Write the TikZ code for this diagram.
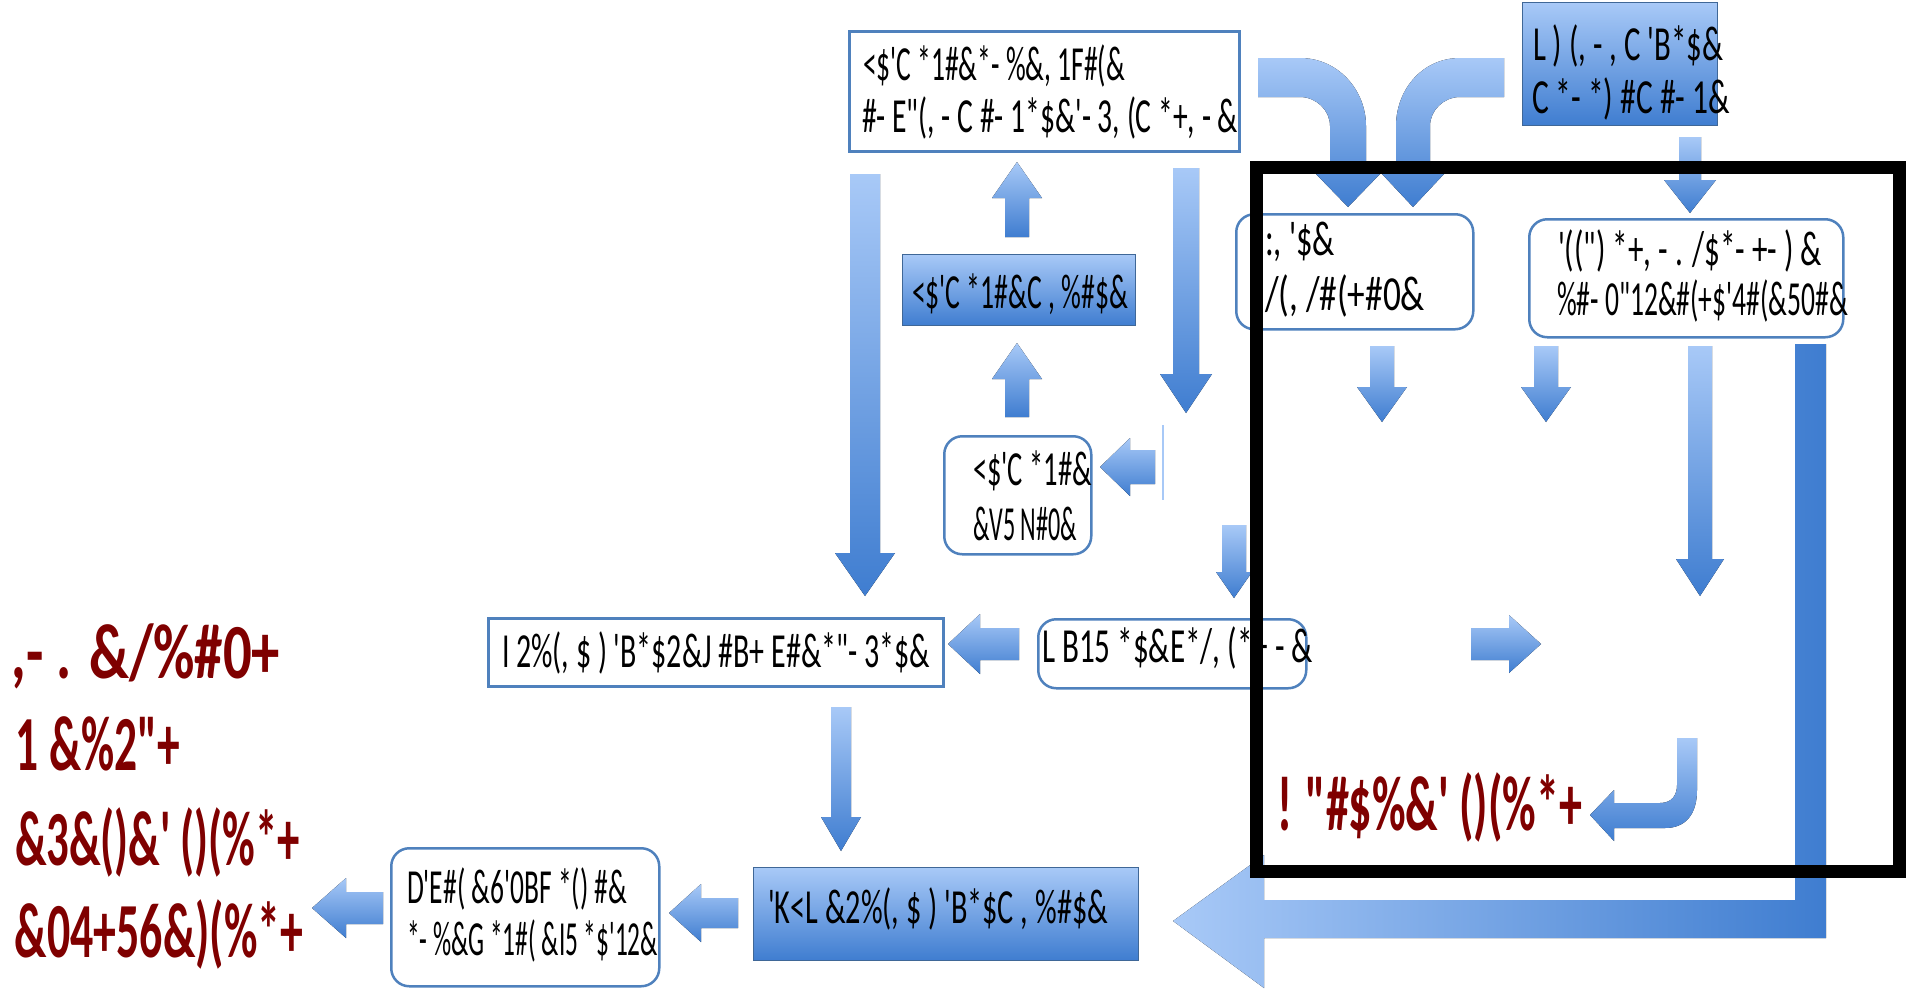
\documentclass[tikz,border=0pt]{standalone}
\usepackage{fontspec}
\usepackage{graphicx}
\newfontfamily\gf[Ligatures=TeXOff]{Carlito}
\definecolor{bord}{HTML}{4F81BD}
\definecolor{lb}{HTML}{A8C9F7}
\definecolor{db}{HTML}{3F7DD0}
\definecolor{redt}{HTML}{7F0000}
\tikzset{
 wbox/.style={draw=bord, line width=2.5pt, fill=white, inner sep=0pt, anchor=north west},
 rbox/.style={wbox, rounded corners=18pt},
 bbox/.style={draw=bord!80!black, line width=1pt, top color=lb, bottom color=db, inner sep=0pt, anchor=north west},
 varr/.style={top color=lb, bottom color=db, draw=none},
 harr/.style={left color=lb, right color=db, draw=none},
 txt/.style={inner sep=0pt, outer sep=0pt, anchor=base west, font=\gf\fontsize{49}{56}\selectfont},
 rtxt/.style={txt, font=\gf\bfseries\fontsize{78}{84}\selectfont, text=redt},
 blackframe/.style={draw=black, line width=13pt},
}
\newcommand{\arrD}[7]{\fill[#7] ({#1-#4},#2) -- ({#1+#4},#2) -- ({#1+#4},{#3-#6}) -- ({#1+#5},{#3-#6}) -- (#1,#3) -- ({#1-#5},{#3-#6}) -- ({#1-#4},{#3-#6}) -- cycle;}
\newcommand{\arrU}[7]{\fill[#7] ({#1-#4},#3) -- ({#1+#4},#3) -- ({#1+#4},{#2+#6}) -- ({#1+#5},{#2+#6}) -- (#1,#2) -- ({#1-#5},{#2+#6}) -- ({#1-#4},{#2+#6}) -- cycle;}
\newcommand{\arrL}[7]{\fill[#7] (#3,{#1-#4}) -- (#3,{#1+#4}) -- ({#2+#6},{#1+#4}) -- ({#2+#6},{#1+#5}) -- (#2,#1) -- ({#2+#6},{#1-#5}) -- ({#2+#6},{#1-#4}) -- cycle;}
\newcommand{\arrR}[7]{\fill[#7] (#2,{#1-#4}) -- (#2,{#1+#4}) -- ({#3-#6},{#1+#4}) -- ({#3-#6},{#1+#5}) -- (#3,#1) -- ({#3-#6},{#1-#5}) -- ({#3-#6},{#1-#4}) -- cycle;}
\newcommand{\tl}[6][txt]{\node[#1] (#2) at (#3,#4) {\resizebox{#5pt}{\height}{#6}};}
\begin{document}
\begin{tikzpicture}[x=1pt,y=-1pt]
\useasboundingbox (0,0) rectangle (1906,988);
% boxes
\node[wbox, minimum width=390pt, minimum height=120pt] (b1) at (848,30) {};
\node[bbox, minimum width=195pt, minimum height=123pt] (b2) at (1522,2) {};
\node[rbox, minimum width=237pt, minimum height=115pt] (b4) at (1235,213) {};
\node[rbox, minimum width=314pt, minimum height=118pt] (b5) at (1528,218) {};
\node[bbox, minimum width=233pt, minimum height=71pt] (b6) at (902,254) {};
\node[rbox, minimum width=147pt, minimum height=118pt] (b7) at (943,435) {};
\node[wbox, minimum width=455pt, minimum height=68pt] (b9) at (487,617) {};
\node[rbox, minimum width=268pt, minimum height=69pt] (b8) at (1037,618) {};
\node[rbox, minimum width=268pt, minimum height=138pt] (b10) at (390,847) {};
\node[bbox, minimum width=385pt, minimum height=93pt] (b11) at (753,867) {};
% texts
\tl{t1a}{863}{80}{262}{<\$'C *1\#\&*- \%\&, 1F\#(\&}
\tl{t1b}{862}{132}{376}{\#- E"(, - C \#- 1*\$\&'- 3, (C *+, - \&}
\tl{t2a}{1533}{60}{190}{L ) (, - , C 'B*\$\&}
\tl{t2b}{1532}{113}{198}{C *- *) \#C \#- 1\&}
\tl{t4a}{1265}{255}{70}{:, '\$\&}
\tl{t4b}{1265}{310}{160}{/(, /\#(+\#0\&}
\tl{t5a}{1558}{265}{264}{'((") *+, - . /\$*- +- ) \&}
\tl{t5b}{1557}{315}{291}{\%\#- 0"12\&\#(+\$'4\#(\&50\#\&}
\tl{t6}{912}{308}{216}{<\$'C *1\#\&C , \%\#\$\&}
\tl{t7a}{973}{485}{119}{<\$'C *1\#\&}
\tl{t7b}{973}{540}{104}{\&V5 N\#0\&}
\tl{t9}{502}{667}{428}{I 2\%(, \$ ) 'B*\$2\&J \#B+ E\#\&*"- 3*\$\&}
\tl{t8}{1042}{662}{271}{L B15 *\$\&E*/, (*+ - \&}
\tl{t10a}{407}{903}{220}{D'E\#( \&6'0BF *() \#\&}
\tl{t10b}{407}{955}{251}{*- \%\&G *1\#( \&I5 *\$'12\&}
\tl{t11}{768}{923}{340}{'K<L \&2\%(, \$ ) 'B*\$C , \%\#\$\&}
\tl[rtxt]{r1}{12}{678}{268}{,- . \&/\%\#0+}
\tl[rtxt]{r2}{16}{770}{164}{1 \&\%2"+}
\tl[rtxt]{r3}{15}{865}{285}{\&3\&()\&' ()(\%*+}
\tl[rtxt]{r4}{15}{957}{288}{\&04+56\&)(\%*+}
\tl[rtxt]{r5}{1277}{830}{305}{! "\#\$\%\&' ()(\%*+}
% straight block arrows
\arrD{865}{174}{596}{15}{30}{43}{varr}
\arrU{1017}{162}{237}{12}{25}{36}{varr}
\arrU{1017}{343}{417}{12}{25}{36}{varr}
\arrD{1186}{168}{413}{13}{26}{39}{varr}
\arrL{467}{1100}{1155}{17}{29}{30}{varr}
\arrD{1234}{525}{598}{12}{18}{26}{varr}
\arrL{644}{948}{1019}{16}{30}{32}{varr}
\arrD{841}{707}{851}{10}{20}{34}{varr}
\arrL{913}{669}{738}{15}{29}{32}{varr}
\arrL{908}{312}{383}{16}{30}{34}{varr}
\arrD{1690}{137}{213}{11}{26}{33}{varr}
\arrD{1382}{346}{422}{12}{25}{35}{varr}
\arrD{1546}{346}{422}{12}{25}{35}{varr}
\arrD{1700}{346}{596}{12}{24}{37}{varr}
\arrR{644}{1471}{1541}{16}{29}{32}{varr}
\draw[lb, line width=2pt] (1163,425) -- (1163,500);
% big L arrow
\fill[harr] (1826,344) -- (1826,938) -- (1264,938) -- (1264,988) -- (1173,921) -- (1264,855) -- (1264,900) -- (1795,900) -- (1795,344) -- cycle;
% curved arrows at top
\fill[varr] (1258,58) -- (1300,58) .. controls (1338,58) and (1366,90) .. (1366,126) -- (1366,174) -- (1380,174) -- (1348,207) -- (1316,174) -- (1330,174) -- (1330,126) .. controls (1330,110) and (1316,97) .. (1300,97) -- (1258,97) -- cycle;
\fill[varr] (1504,58) -- (1460,58) .. controls (1422,58) and (1396,90) .. (1396,126) -- (1396,174) -- (1382,174) -- (1413,207) -- (1444,174) -- (1430,174) -- (1430,126) .. controls (1430,110) and (1444,97) .. (1460,97) -- (1504,97) -- cycle;
% return arrow
\fill[varr] (1677,738) -- (1697,738) -- (1697,790) .. controls (1697,815) and (1685,828) .. (1665,828) -- (1614,828) -- (1614,841) -- (1590,815) -- (1614,790) -- (1614,803) -- (1660,803) .. controls (1672,803) and (1677,795) .. (1677,785) -- cycle;
% black frame
\draw[blackframe] (1256.5,167) rectangle (1899,871);
\end{tikzpicture}
\end{document}
